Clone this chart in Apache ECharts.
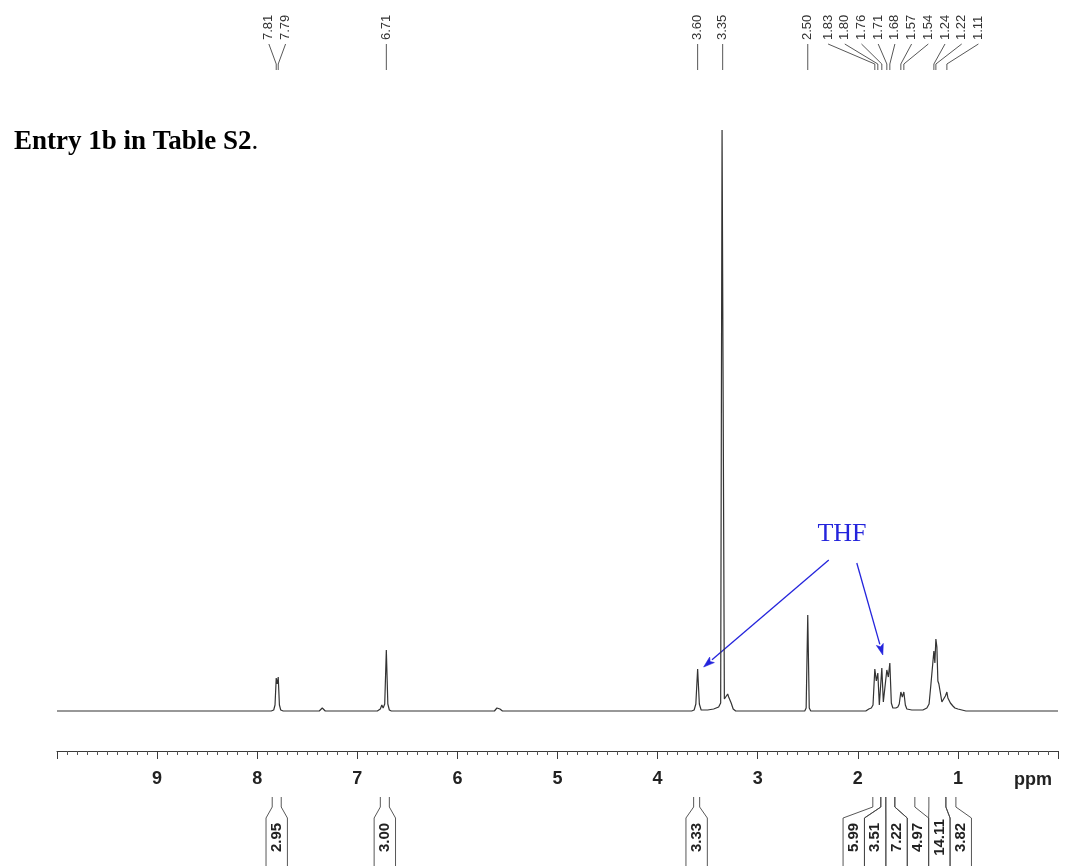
<!DOCTYPE html>
<html>
<head>
<meta charset="utf-8">
<script src="https://cdn.jsdelivr.net/npm/echarts@6/dist/echarts.min.js"></script>
<style>
  html, body { margin: 0; padding: 0; background: #ffffff; }
  #chart { width: 1067px; height: 866px; }
</style>
</head>
<body>
<div id="chart"></div>
<script>
// Chemical shift axis labels (ppm)
const shiftTicks = [1, 2, 3, 4, 5, 6, 7, 8, 9];

// 1H NMR trace as [ppm, intensity] vertices, high field to the right
const spectrum = [
  [10.0, 0], [7.86, 0], [7.835, 1], [7.822, 6], [7.81, 33], [7.80, 27], [7.79, 34], [7.778, 6], [7.765, 1], [7.74, 0],
  [7.38, 0], [7.35, 3], [7.32, 0],
  [6.80, 0], [6.77, 2], [6.755, 6], [6.742, 3], [6.726, 7], [6.71, 61], [6.695, 7], [6.68, 1], [6.66, 0],
  [5.63, 0], [5.605, 3], [5.59, 4], [5.575, 2], [5.55, 0],
  [3.66, 0], [3.635, 1], [3.618, 7], [3.60, 42], [3.583, 7], [3.565, 1], [3.50, 1], [3.44, 2], [3.39, 4],
  [3.37, 8], [3.356, 581], [3.346, 581], [3.333, 12], [3.318, 12], [3.30, 17], [3.29, 14], [3.28, 16], [3.265, 8], [3.245, 2], [3.22, 0],
  [2.53, 0], [2.516, 3], [2.50, 96], [2.485, 3], [2.47, 0],
  [1.92, 0], [1.89, 2], [1.865, 3], [1.848, 6], [1.83, 42], [1.815, 30], [1.80, 38], [1.785, 6], [1.775, 5],
  [1.76, 43], [1.745, 9], [1.728, 7], [1.71, 41], [1.695, 34], [1.68, 48], [1.665, 8], [1.65, 3],
  [1.62, 3], [1.60, 4], [1.586, 7], [1.57, 19], [1.555, 14], [1.54, 19], [1.525, 6], [1.51, 2], [1.46, 1],
  [1.35, 1], [1.31, 3], [1.288, 7], [1.272, 24], [1.258, 22], [1.24, 60], [1.23, 48], [1.22, 72], [1.21, 64],
  [1.20, 30], [1.19, 27], [1.175, 18], [1.16, 9], [1.145, 9], [1.125, 15], [1.11, 19], [1.10, 13], [1.09, 15],
  [1.075, 8], [1.05, 5], [1.03, 3], [1.0, 2], [0.96, 1], [0.92, 0], [0.0, 0]
];

// Picked peak positions (ppm)
const peakLabels = ['7.81', '7.79', '6.71', '3.60', '3.35', '2.50', '1.83', '1.80', '1.76', '1.71', '1.68', '1.57', '1.54', '1.24', '1.22', '1.11'];

// Integration regions: start ppm, end ppm, integral
const integralStart = [7.85, 6.77, 3.64, 1.85, 1.77, 1.72, 1.63, 1.29, 1.12];
const integralEnd   = [7.76, 6.68, 3.58, 1.77, 1.72, 1.63, 1.43, 1.12, 1.02];
const integralValue = ['2.95', '3.00', '3.33', '5.99', '3.51', '7.22', '4.97', '14.11', '3.82'];

// Solvent annotation: arrow tails and heads as [ppm, intensity]
const solventLabel = 'THF';
const solventArrowTail = [[2.29, 151], [2.01, 148]];
const solventArrowHead = [[3.54, 44], [1.75, 56]];

const titleText = 'Entry 1b in Table S2';

const chart = echarts.init(document.getElementById('chart'), null, { renderer: 'canvas' });

const ink = '#333333';
const blue = '#2424dc';

chart.setOption({
  animation: false,
  backgroundColor: '#ffffff',
  grid: { left: 57, right: 9, top: 130, bottom: 115, containLabel: false },
  xAxis: {
    type: 'value',
    min: 0,
    max: 10,
    interval: 1,
    inverse: true,
    splitLine: { show: false },
    axisLine: { show: true, onZero: false, lineStyle: { color: '#3a3a3a', width: 1 } },
    axisTick: { show: true, length: 8, lineStyle: { color: '#3a3a3a', width: 1 } },
    minorTick: { show: true, splitNumber: 10, length: 4, lineStyle: { color: '#555555', width: 1 } },
    axisLabel: {
      margin: 19,
      fontFamily: 'Liberation Sans, Arial, sans-serif',
      fontWeight: 'bold',
      fontSize: 18,
      color: '#222222',
      formatter: v => (shiftTicks.indexOf(Math.round(v)) >= 0 && Math.abs(v - Math.round(v)) < 1e-6) ? String(Math.round(v)) : ''
    }
  },
  yAxis: { type: 'value', min: -40, max: 581, show: false },
  series: [{
    type: 'line',
    data: spectrum,
    showSymbol: false,
    symbol: 'none',
    smooth: false,
    clip: false,
    lineStyle: { color: ink, width: 1.2 },
    silent: true
  }]
});

// Spread labels so neighbours never overlap; crowded groups are centred on their peaks
function spread(anchors, gap) {
  let groups = anchors.map((a, i) => ({ members: [i], center: a }));
  let merged = true;
  while (merged) {
    merged = false;
    for (let i = 0; i < groups.length - 1; i++) {
      const a = groups[i], b = groups[i + 1];
      const aRight = a.center + (a.members.length - 1) * gap / 2;
      const bLeft = b.center - (b.members.length - 1) * gap / 2;
      if (bLeft - aRight < gap) {
        const members = a.members.concat(b.members);
        const center = members.reduce((s, m) => s + anchors[m], 0) / members.length;
        groups.splice(i, 2, { members: members, center: center });
        merged = true;
        break;
      }
    }
  }
  const out = [];
  groups.forEach(g => g.members.forEach((m, k) => {
    out[m] = g.center + (k - (g.members.length - 1) / 2) * gap;
  }));
  return out;
}

const px = ppm => chart.convertToPixel({ xAxisIndex: 0 }, ppm);
const pt = p => chart.convertToPixel({ xAxisIndex: 0, yAxisIndex: 0 }, p);
const graphics = [];

// Peak picking labels along the top
const peakX = peakLabels.map(l => px(parseFloat(l)));
const peakLabelX = spread(peakX, 16.7);
peakLabels.forEach((label, i) => {
  graphics.push({
    type: 'text', x: peakLabelX[i], y: 40, rotation: Math.PI / 2, silent: true,
    style: {
      text: label, fill: ink, font: '13px "Liberation Sans", Arial, sans-serif',
      align: 'left', verticalAlign: 'middle', textAlign: 'left', textVerticalAlign: 'middle'
    }
  });
  graphics.push({
    type: 'polyline', silent: true,
    shape: { points: [[peakLabelX[i], 44], [peakX[i], 64], [peakX[i], 70]] },
    style: { stroke: '#444444', lineWidth: 0.9, fill: null }
  });
});

// Integral brackets below the axis
const intMid = integralStart.map((s, i) => px((s + integralEnd[i]) / 2));
const boxW = 21.4;
const boxX = spread(intMid, boxW);
integralValue.forEach((val, i) => {
  const x1 = px(integralStart[i]), x2 = px(integralEnd[i]);
  const bl = boxX[i] - boxW / 2, br = boxX[i] + boxW / 2;
  graphics.push({
    type: 'polyline', silent: true,
    shape: { points: [[x1, 797], [x1, 807], [bl, 818], [bl, 868]] },
    style: { stroke: '#444444', lineWidth: 0.9, fill: null }
  });
  graphics.push({
    type: 'polyline', silent: true,
    shape: { points: [[x2, 797], [x2, 807], [br, 818], [br, 868]] },
    style: { stroke: '#444444', lineWidth: 0.9, fill: null }
  });
  graphics.push({
    type: 'text', x: boxX[i], y: 837.5, rotation: Math.PI / 2, silent: true,
    style: {
      text: val, fill: '#222222', font: 'bold 15px "Liberation Sans", Arial, sans-serif',
      align: 'center', verticalAlign: 'middle', textAlign: 'center', textVerticalAlign: 'middle'
    }
  });
});

// Solvent arrows with filled heads
solventArrowTail.forEach((tail, i) => {
  const a = pt(tail), b = pt(solventArrowHead[i]);
  const dx = b[0] - a[0], dy = b[1] - a[1];
  const len = Math.sqrt(dx * dx + dy * dy);
  const ux = dx / len, uy = dy / len;
  const headLen = 11, half = 3.6;
  const bx = b[0] - ux * headLen, by = b[1] - uy * headLen;
  graphics.push({
    type: 'line', silent: true,
    shape: { x1: a[0], y1: a[1], x2: bx, y2: by },
    style: { stroke: blue, lineWidth: 1.3 }
  });
  graphics.push({
    type: 'polygon', silent: true,
    shape: { points: [[b[0], b[1]], [bx - uy * half, by + ux * half], [bx + ux * 2.5, by + uy * 2.5], [bx + uy * half, by - ux * half]] },
    style: { fill: blue, stroke: blue, lineWidth: 0.6 }
  });
});

// Axis unit
graphics.push({
  type: 'text', x: 1033, y: 780, silent: true,
  style: {
    text: 'ppm', fill: '#222222', font: 'bold 18px "Liberation Sans", Arial, sans-serif',
    align: 'center', verticalAlign: 'middle', textAlign: 'center', textVerticalAlign: 'middle'
  }
});

// Solvent label
graphics.push({
  type: 'text', x: 842, y: 534, silent: true,
  style: {
    text: solventLabel, fill: blue, font: '26px "Liberation Serif", "Times New Roman", serif',
    align: 'center', verticalAlign: 'middle', textAlign: 'center', textVerticalAlign: 'middle'
  }
});

// Caption
graphics.push({
  type: 'text', x: 14, y: 142, silent: true,
  style: {
    text: '{b|' + titleText + '}{r|.}',
    align: 'left', verticalAlign: 'middle', textAlign: 'left', textVerticalAlign: 'middle',
    rich: {
      b: { font: 'bold 27px "Liberation Serif", "Times New Roman", serif', fill: '#000000', color: '#000000' },
      r: { font: '27px "Liberation Serif", "Times New Roman", serif', fill: '#000000', color: '#000000' }
    }
  }
});

chart.setOption({ graphic: { elements: graphics } });
</script>
</body>
</html>
